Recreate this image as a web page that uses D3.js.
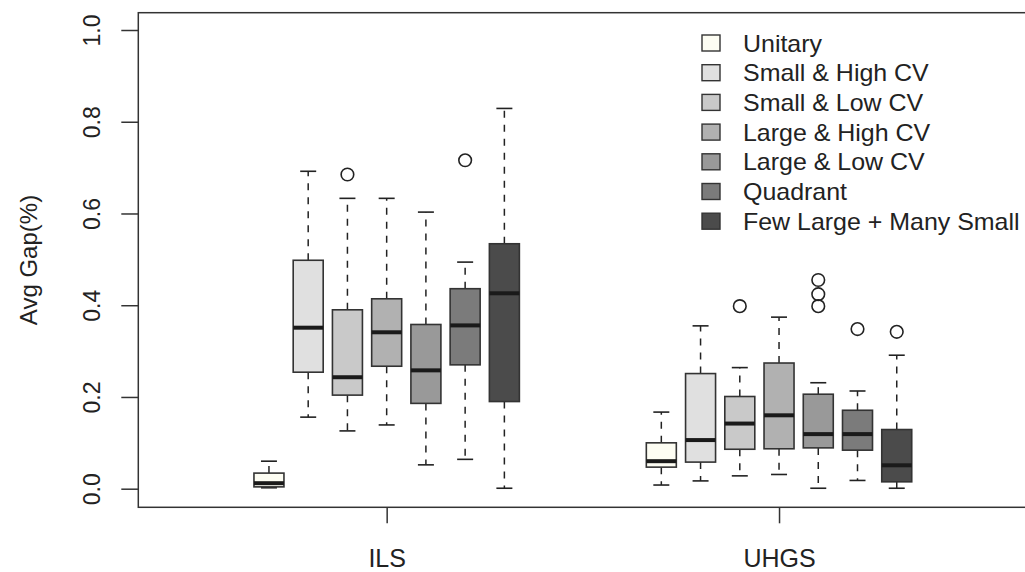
<!DOCTYPE html>
<html lang="en">
<head>
  <meta charset="UTF-8" />
  <script src="https://d3js.org/d3.v7.min.js"></script>
  <style>
    body { margin: 0; background: #fff; }
    text { font-family: "Liberation Sans", Arial, sans-serif; fill: #222; }
  </style>
</head>
<body>
  <div id="chart"></div>

  <script>
    // groups on the x axis, and the seven instance types inside each group
    const groups = ["ILS", "UHGS"];
    const categories = ["Unitary", "Small & High CV", "Small & Low CV", "Large & High CV",
                        "Large & Low CV", "Quadrant", "Few Large + Many Small"];
    const yTicks = [0, 0.2, 0.4, 0.6, 0.8, 1.0];

    // box stats, one row per group, one entry per category
    const whiskerLow = [
      [0.002, 0.156, 0.126, 0.139, 0.052, 0.064, 0.001],
      [0.008, 0.017, 0.028, 0.031, 0.001, 0.018, 0.001]
    ];
    const q1 = [
      [0.004, 0.254, 0.204, 0.267, 0.186, 0.270, 0.190],
      [0.047, 0.058, 0.086, 0.087, 0.089, 0.084, 0.015]
    ];
    const median = [
      [0.012, 0.351, 0.243, 0.341, 0.258, 0.356, 0.426],
      [0.060, 0.106, 0.142, 0.160, 0.119, 0.119, 0.051]
    ];
    const q3 = [
      [0.034, 0.498, 0.390, 0.414, 0.358, 0.436, 0.534],
      [0.100, 0.251, 0.201, 0.274, 0.206, 0.171, 0.129]
    ];
    const whiskerHigh = [
      [0.060, 0.692, 0.633, 0.633, 0.603, 0.494, 0.829],
      [0.167, 0.355, 0.264, 0.374, 0.231, 0.213, 0.291]
    ];
    const outliers = [
      [[], [], [0.685], [], [], [0.716], []],
      [[], [], [0.398], [], [0.455, 0.424, 0.398], [0.348], [0.342]]
    ];

    const fills = ["#fdfdf3", "#e0e0e0", "#c9c9c9", "#b1b1b1", "#999999", "#7b7b7b", "#4b4b4b"];

    const W = 1025, H = 572;
    const svg = d3.select("#chart").append("svg")
      .attr("width", W).attr("height", H);

    // plot region (right edge runs just past the window, like the original)
    const pLeft = 138.3, pRight = 1027.4, pTop = 12.7, pBottom = 507.3;

    // slot positions: group g, category c -> g*10 + c ; group centres at 3 and 13
    const x = d3.scaleLinear().domain([-3.33, 19.33]).range([pLeft, pRight]);
    const y = d3.scaleLinear().domain([0, 1]).range([488.7, 30]);

    const boxW = 30, capW = 16;

    const boxes = [];
    groups.forEach((g, gi) => {
      categories.forEach((c, ci) => {
        boxes.push({
          pos: gi * 10 + ci, ci,
          lo: whiskerLow[gi][ci], q1: q1[gi][ci], med: median[gi][ci],
          q3: q3[gi][ci], hi: whiskerHigh[gi][ci], out: outliers[gi][ci]
        });
      });
    });

    const bx = svg.append("g").selectAll("g").data(boxes).enter().append("g");

    // whiskers
    bx.append("line")
      .attr("x1", d => x(d.pos)).attr("x2", d => x(d.pos))
      .attr("y1", d => y(d.q3)).attr("y2", d => y(d.hi))
      .attr("stroke", "#222").attr("stroke-width", 1.5).attr("stroke-dasharray", "7,7");
    bx.append("line")
      .attr("x1", d => x(d.pos)).attr("x2", d => x(d.pos))
      .attr("y1", d => y(d.q1)).attr("y2", d => y(d.lo))
      .attr("stroke", "#222").attr("stroke-width", 1.5).attr("stroke-dasharray", "7,7");
    // staples
    ["hi", "lo"].forEach(k => {
      bx.append("line")
        .attr("x1", d => x(d.pos) - capW / 2).attr("x2", d => x(d.pos) + capW / 2)
        .attr("y1", d => y(d[k])).attr("y2", d => y(d[k]))
        .attr("stroke", "#222").attr("stroke-width", 1.6);
    });
    // boxes
    bx.append("rect")
      .attr("x", d => x(d.pos) - boxW / 2).attr("width", boxW)
      .attr("y", d => y(d.q3)).attr("height", d => y(d.q1) - y(d.q3))
      .attr("fill", d => fills[d.ci]).attr("stroke", "#333").attr("stroke-width", 1.6);
    // medians
    bx.append("line")
      .attr("x1", d => x(d.pos) - boxW / 2).attr("x2", d => x(d.pos) + boxW / 2)
      .attr("y1", d => y(d.med)).attr("y2", d => y(d.med))
      .attr("stroke", "#1a1a1a").attr("stroke-width", 4);
    // outliers
    bx.selectAll("circle").data(d => d.out.map(v => ({ pos: d.pos, v }))).enter()
      .append("circle")
      .attr("cx", d => x(d.pos)).attr("cy", d => y(d.v)).attr("r", 6.3)
      .attr("fill", "none").attr("stroke", "#222").attr("stroke-width", 1.6);

    // frame
    svg.append("rect")
      .attr("x", pLeft).attr("y", pTop).attr("width", pRight - pLeft).attr("height", pBottom - pTop)
      .attr("fill", "none").attr("stroke", "#333").attr("stroke-width", 1.5);

    // y axis
    const yAxis = svg.append("g").attr("transform", `translate(${pLeft},0)`)
      .call(d3.axisLeft(y).tickValues(yTicks).tickFormat(d3.format(".1f")).tickSize(17).tickSizeOuter(0));
    yAxis.select(".domain").remove();
    yAxis.selectAll(".tick line").attr("stroke", "#333").attr("stroke-width", 1.5);
    yAxis.selectAll(".tick text")
      .attr("transform", "rotate(-90)")
      .attr("x", 0).attr("y", -38).attr("dy", 0)
      .attr("text-anchor", "middle")
      .style("font-size", "23px").style("fill", "#222");

    // x axis
    const xAxis = svg.append("g").attr("transform", `translate(0,${pBottom})`)
      .call(d3.axisBottom(x).tickValues([3, 13]).tickFormat((d, i) => groups[i]).tickSize(16).tickSizeOuter(0));
    xAxis.select(".domain").remove();
    xAxis.selectAll(".tick line").attr("stroke", "#333").attr("stroke-width", 1.5);
    xAxis.selectAll(".tick text")
      .attr("y", 60).attr("dy", 0)
      .style("font-size", "25px").style("fill", "#222");

    // y label
    svg.append("text")
      .attr("transform", `translate(37,${(pTop + pBottom) / 2}) rotate(-90)`)
      .attr("text-anchor", "middle")
      .style("font-size", "24px")
      .text("Avg Gap(%)");

    // legend
    const lg = svg.append("g").selectAll("g").data(categories).enter().append("g")
      .attr("transform", (d, i) => `translate(702,${43 + i * 29.7})`);
    lg.append("rect")
      .attr("x", 0).attr("y", -8).attr("width", 18).attr("height", 16)
      .attr("fill", (d, i) => fills[i]).attr("stroke", "#333").attr("stroke-width", 1.4);
    lg.append("text")
      .attr("transform", "translate(41,8.5) scale(1.04,1)")
      .style("font-size", "24px")
      .text(d => d);
  </script>
</body>
</html>
